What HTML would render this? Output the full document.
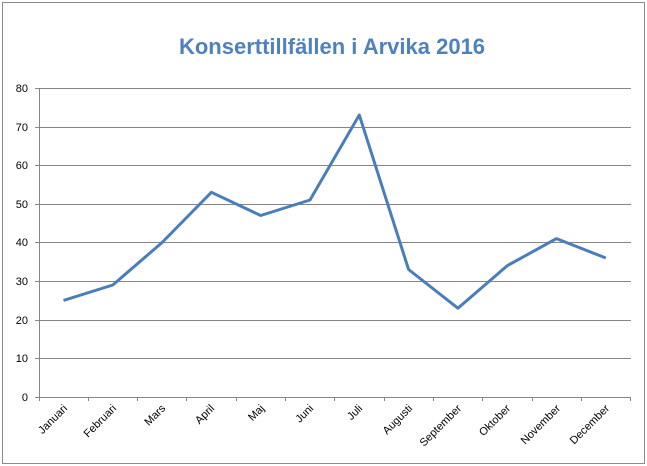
<!DOCTYPE html>
<html><head><meta charset="utf-8"><style>
html,body{margin:0;padding:0;background:#fff;}
svg{display:block;font-family:"Liberation Sans",sans-serif;}
</style></head><body>
<svg width="647" height="466" viewBox="0 0 647 466" xmlns="http://www.w3.org/2000/svg">
<rect x="2.5" y="2.5" width="642" height="461" fill="#fff" stroke="#8c8c8c" stroke-width="1"/>
<text x="332" y="54" text-anchor="middle" font-size="22" font-weight="bold" fill="#4f81bd">Konserttillfällen i Arvika 2016</text>
<g stroke="#868686" stroke-width="1">
<line x1="35" y1="88.5" x2="631" y2="88.5"/>
<line x1="35" y1="127.5" x2="631" y2="127.5"/>
<line x1="35" y1="165.5" x2="631" y2="165.5"/>
<line x1="35" y1="204.5" x2="631" y2="204.5"/>
<line x1="35" y1="242.5" x2="631" y2="242.5"/>
<line x1="35" y1="281.5" x2="631" y2="281.5"/>
<line x1="35" y1="320.5" x2="631" y2="320.5"/>
<line x1="35" y1="358.5" x2="631" y2="358.5"/>
<line x1="35" y1="397.5" x2="631" y2="397.5"/>
<line x1="39.5" y1="88" x2="39.5" y2="397"/>
<line x1="39.5" y1="397" x2="39.5" y2="401"/><line x1="88.5" y1="397" x2="88.5" y2="401"/><line x1="137.5" y1="397" x2="137.5" y2="401"/><line x1="186.5" y1="397" x2="186.5" y2="401"/><line x1="236.5" y1="397" x2="236.5" y2="401"/><line x1="285.5" y1="397" x2="285.5" y2="401"/><line x1="334.5" y1="397" x2="334.5" y2="401"/><line x1="384.5" y1="397" x2="384.5" y2="401"/><line x1="433.5" y1="397" x2="433.5" y2="401"/><line x1="482.5" y1="397" x2="482.5" y2="401"/><line x1="532.5" y1="397" x2="532.5" y2="401"/><line x1="581.5" y1="397" x2="581.5" y2="401"/><line x1="630.5" y1="397" x2="630.5" y2="401"/>
</g>
<g font-size="11" fill="#000" text-anchor="end">
<text x="28" y="92">80</text><text x="28" y="131">70</text><text x="28" y="169">60</text><text x="28" y="208">50</text><text x="28" y="246">40</text><text x="28" y="285">30</text><text x="28" y="324">20</text><text x="28" y="362">10</text><text x="28" y="401">0</text>
</g>
<g font-size="11" fill="#000" text-anchor="end">
<text transform="translate(68,409) rotate(-45)">Januari</text>
<text transform="translate(117,409) rotate(-45)">Februari</text>
<text transform="translate(166,409) rotate(-45)">Mars</text>
<text transform="translate(215,409) rotate(-45)">April</text>
<text transform="translate(265,409) rotate(-45)">Maj</text>
<text transform="translate(314,409) rotate(-45)">Juni</text>
<text transform="translate(363,409) rotate(-45)">Juli</text>
<text transform="translate(413,409) rotate(-45)">Augusti</text>
<text transform="translate(462,409) rotate(-45)">September</text>
<text transform="translate(511,409) rotate(-45)">Oktober</text>
<text transform="translate(561,409) rotate(-45)">November</text>
<text transform="translate(610,409) rotate(-45)">December</text>
</g>
<polyline fill="none" stroke="#4a7ebb" stroke-width="3" stroke-linejoin="round" points="63.5,300.4 112.8,285 162.1,242.5 211.4,192.3 260.7,215.5 310,200 359.3,115 408.6,269.5 457.9,308.2 507.2,265.7 556.5,238.6 605.8,258"/>
</svg>
</body></html>
